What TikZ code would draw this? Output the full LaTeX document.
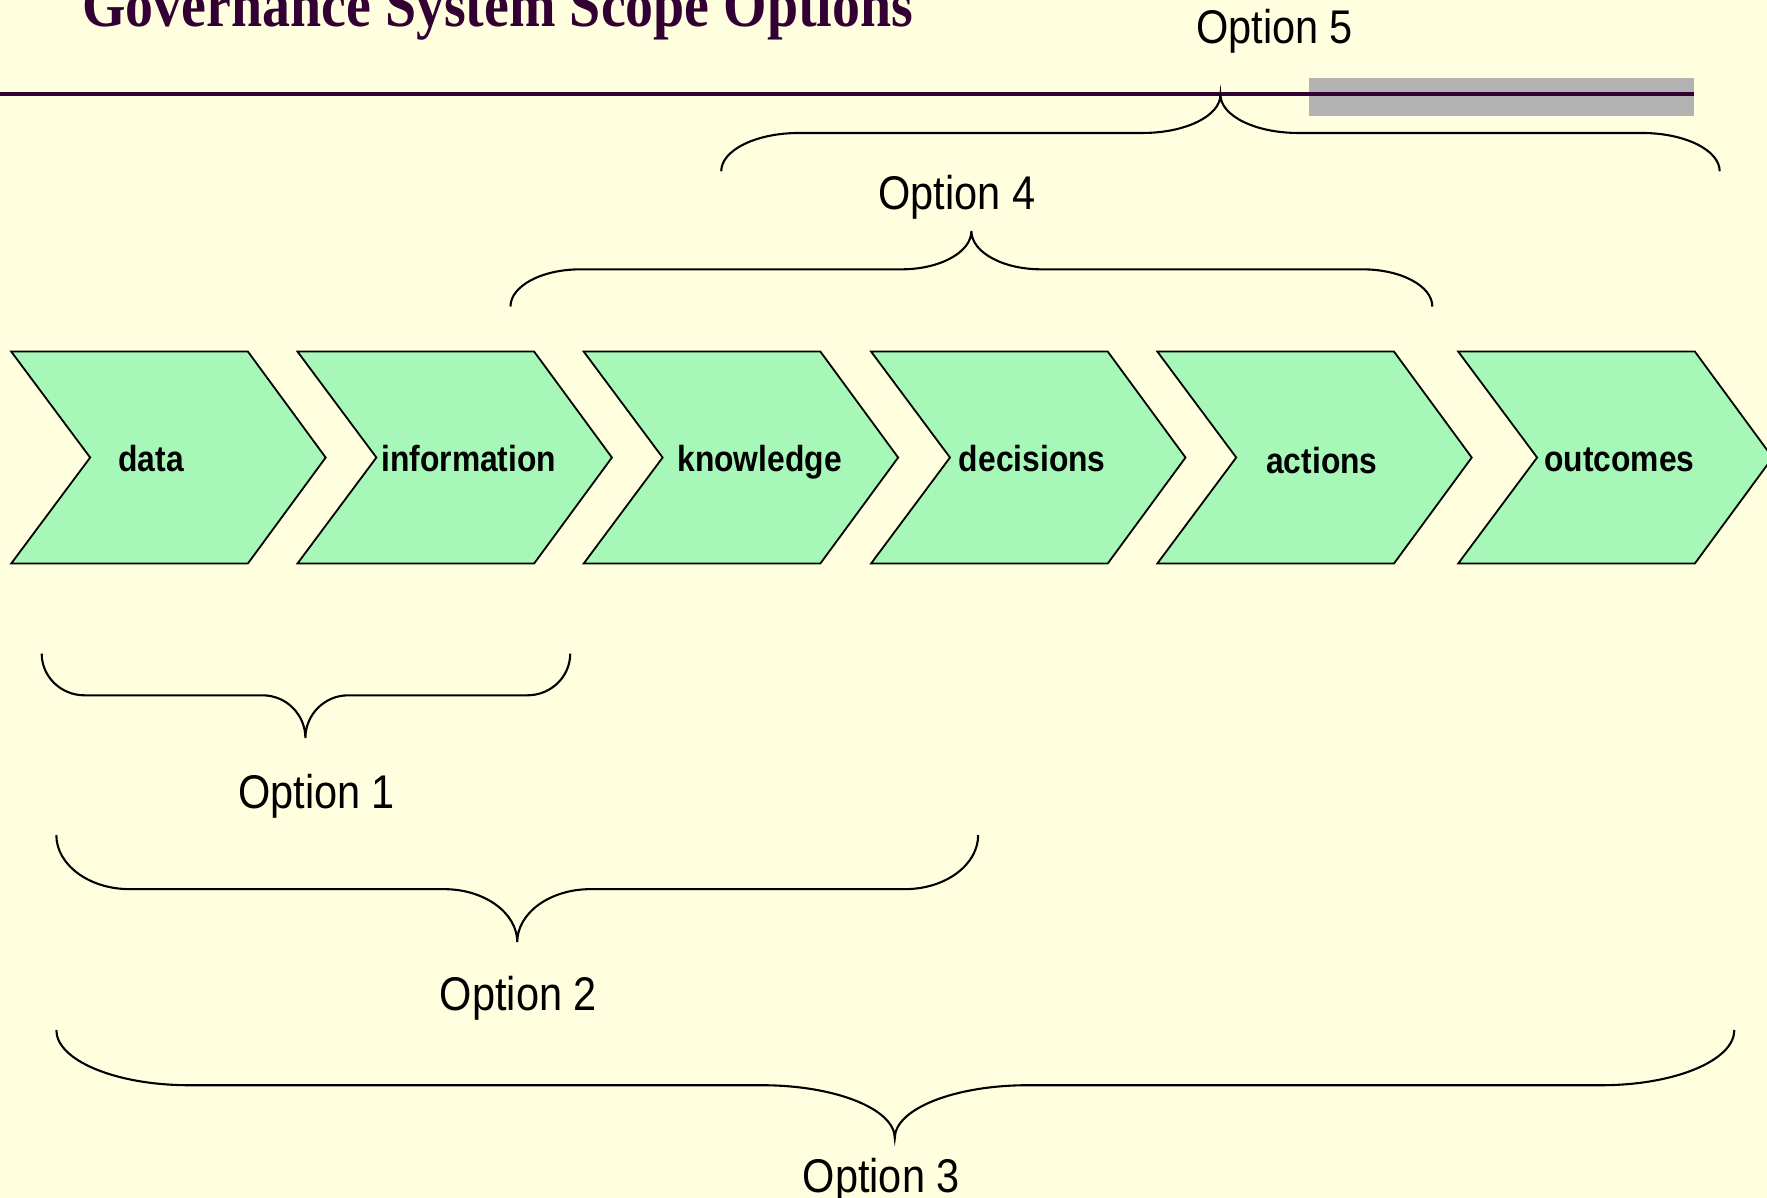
\documentclass[tikz,border=0pt]{standalone}
\usepackage{fontspec}
\setmainfont{Liberation Sans}
\newfontfamily\titlefont{Liberation Serif}
\usepackage{graphicx}
\definecolor{slidebg}{RGB}{255,255,224}
\definecolor{chevgreen}{RGB}{166,247,184}
\definecolor{plum}{RGB}{51,0,51}
\definecolor{bargray}{RGB}{178,178,178}
\newcommand\tall[1]{\scalebox{1}[1.14]{#1}}
% chevron: left x
\newcommand\chevron[1]{\draw[chevstroke] (#1,312) -- ({#1+210},312) -- ({#1+279},406) -- ({#1+210},500) -- (#1,500) -- ({#1+70},406) -- cycle;}
% brace: left x, right x, tip x, end y, flat y, tip y, corner radius
\newcommand\scopebrace[7]{\draw[bracestroke] (#1,#4) .. controls (#1,{#4+0.552*(#5-#4)}) and ({#1+0.448*#7},#5) .. ({#1+#7},#5)
  -- ({#3-#7},#5) .. controls ({#3-0.448*#7},#5) and (#3,{#6-0.552*(#6-#5)}) .. (#3,#6)
  .. controls (#3,{#6-0.552*(#6-#5)}) and ({#3+0.448*#7},#5) .. ({#3+#7},#5)
  -- ({#2-#7},#5) .. controls ({#2-0.448*#7},#5) and (#2,{#4+0.552*(#5-#4)}) .. (#2,#4);}
\begin{document}
\begin{tikzpicture}[x=1.127pt,y=-1.127pt]
\tikzstyle{chevstroke}=[draw=black,line width=1.8pt,fill=chevgreen,line join=miter]
\tikzstyle{bracestroke}=[black,line width=2.1pt]
\tikzstyle{step label}=[inner sep=0pt,anchor=base,font=\fontsize{31.8}{36}\selectfont\bfseries]
\tikzstyle{option label}=[inner sep=0pt,anchor=base,font=\fontsize{41.5}{48}\selectfont]
\fill[slidebg] (0,0) rectangle (1568,1063);
\useasboundingbox (0,0) rectangle (1568,1063);
% title and rule
\node[inner sep=0pt,anchor=base west,text=plum,font=\fontsize{55.9}{60}\selectfont\titlefont\bfseries] (title) at (73,23.5) {\tall{Governance System Scope Options}};
\fill[bargray] (1162,69) rectangle (1503,103);
\draw[plum,line width=4pt] (0,83) -- (1503,83);
% chevrons
\chevron{10}
\chevron{264}
\chevron{518}
\chevron{773}
\chevron{1027}
\chevron{1294}
\node[step label] (data) at (134,418) {\tall{data}};
\node[step label] (information) at (416,418) {\tall{information}};
\node[step label] (knowledge) at (674,418) {\tall{knowledge}};
\node[step label] (decisions) at (916,418) {\tall{decisions}};
\node[step label] (actions) at (1173,420) {\tall{actions}};
\node[step label] (outcomes) at (1437,418) {\tall{outcomes}};
% braces
\scopebrace{640}{1526}{1083}{152}{118}{84}{69}
\scopebrace{453}{1271}{862}{272}{239}{205}{62}
\scopebrace{37}{506}{271}{580}{617}{655}{38}
\scopebrace{50}{868}{459}{741}{789}{836}{65}
\scopebrace{50}{1539}{794}{914}{963}{1010}{118}
\node[option label] (option5) at (1131,39) {\tall{Option 5}};
\node[option label] (option4) at (849,186) {\tall{Option 4}};
\node[option label] (option1) at (281,717) {\tall{Option 1}};
\node[option label] (option2) at (460,897) {\tall{Option 2}};
\node[option label] (option3) at (782,1058) {\tall{Option 3}};
\end{tikzpicture}
\end{document}
